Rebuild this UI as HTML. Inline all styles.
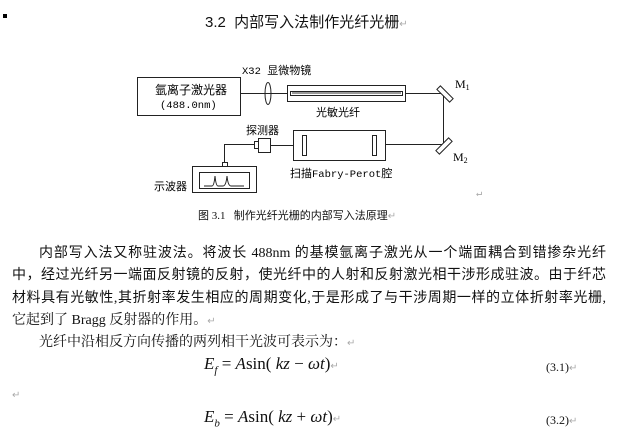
<!DOCTYPE html>
<html><head><meta charset="utf-8"><style>
body{margin:0;width:621px;height:436px;background:#fff;position:relative;overflow:hidden;font-family:"Liberation Serif","Noto Serif CJK SC","Noto Sans CJK SC",serif;color:#111}
.a{position:absolute;white-space:nowrap}
.t{position:absolute;font-size:14px;font-family:"Liberation Serif","Noto Sans CJK SC",sans-serif;text-align:justify;text-align-last:justify;white-space:nowrap}
.m{font-family:"Liberation Serif",serif;font-size:17px}
.r{color:#aaa;font-size:10px}
</style></head><body>
<div class="a" style="left:3px;top:14px;width:4px;height:4px;background:#000"></div>
<div class="a" style="left:205px;top:11px;font-size:15px;font-family:'Liberation Sans','Noto Sans CJK SC',sans-serif">3.2&nbsp; 内部写入法制作光纤光栅<span class="r">↵</span></div>
<svg class="a" style="left:0;top:0" width="621" height="210" font-family="Liberation Mono,'Noto Sans CJK SC',monospace" font-size="10.5">
<g fill="none" stroke="#222" stroke-width="1">
<rect x="137.5" y="77.5" width="103" height="38"/>
<line x1="240" y1="93.5" x2="287" y2="93.5"/>
<ellipse cx="268" cy="93.5" rx="3" ry="11"/>
<rect x="287.5" y="85.5" width="118" height="16"/>
<rect x="290.5" y="91.5" width="112" height="4"/>
<line x1="405" y1="93.5" x2="443" y2="93.5"/>
<line x1="443.5" y1="93" x2="443.5" y2="144"/>
<line x1="385" y1="144.5" x2="443" y2="144.5"/>
<rect x="293.5" y="130.5" width="92" height="30"/>
<rect x="302.5" y="135.5" width="4" height="20"/>
<rect x="372.5" y="135.5" width="4" height="20"/>
<line x1="271" y1="145.5" x2="293" y2="145.5"/>
<rect x="258.5" y="138.5" width="12" height="14"/>
<rect x="254.5" y="141.5" width="4" height="7"/>
<polyline points="254,144.5 224.5,144.5 224.5,162"/>
<rect x="222.5" y="162.5" width="5" height="4"/>
<rect x="192.5" y="166.5" width="64" height="26"/>
<rect x="199.5" y="172.5" width="50" height="16"/>
<path d="M204 186 L212 186 Q214 186 215 176 Q216 186 218 186 L223 186 Q226 186 227 176 Q228 186 231 186 L244 186"/>
</g>
<g stroke="#222" stroke-width="1" fill="#fff">
<rect x="-9" y="-2.5" width="18" height="5" transform="translate(445,94) rotate(45)"/>
<rect x="-9" y="-2.5" width="18" height="5" transform="translate(444,146) rotate(-45)"/>
</g>
<g fill="#333">
<rect x="292" y="92" width="109" height="2" opacity=".5"/>
</g>
<text x="155" y="94" font-size="12" font-family="Noto Sans CJK SC,sans-serif">氩离子激光器</text>
<text x="160" y="108">(488.0nm)</text>
<text x="242" y="74">X32 <tspan font-family="Noto Sans CJK SC,sans-serif" font-size="11">显微物镜</tspan></text>
<text x="316" y="116" font-family="Noto Sans CJK SC,sans-serif" font-size="11">光敏光纤</text>
<text x="246" y="134" font-family="Noto Sans CJK SC,sans-serif" font-size="11">探测器</text>
<text x="154" y="190" font-family="Noto Sans CJK SC,sans-serif" font-size="11">示波器</text>
<text x="290" y="177"><tspan font-family="Noto Sans CJK SC,sans-serif" font-size="11">扫描</tspan>Fabry-Perot<tspan font-family="Noto Sans CJK SC,sans-serif" font-size="11">腔</tspan></text>
<text x="455" y="88" font-family="Liberation Serif,serif" font-size="12">M<tspan font-size="8" dy="2">1</tspan></text>
<text x="453" y="161" font-family="Liberation Serif,serif" font-size="12">M<tspan font-size="8" dy="2">2</tspan></text>
<text x="476" y="196" fill="#aaa">↵</text>
</svg>
<div class="a" style="left:198px;top:207px;font-size:11px;font-family:'Liberation Serif','Noto Sans CJK SC',serif">图 3.1&nbsp;&nbsp; 制作光纤光栅的内部写入法原理<span class="r">↵</span></div>
<div class="t" style="left:39px;top:242px;width:567px">内部写入法又称驻波法。将波长 488nm 的基模氩离子激光从一个端面耦合到错掺杂光纤</div>
<div class="t" style="left:12px;top:264px;width:594px">中，经过光纤另一端面反射镜的反射，使光纤中的人射和反射激光相干涉形成驻波。由于纤芯</div>
<div class="t" style="left:12px;top:287px;width:594px">材料具有光敏性,其折射率发生相应的周期变化,于是形成了与干涉周期一样的立体折射率光栅,</div>
<div class="a" style="left:12px;top:309px;font-size:14px">它起到了 Bragg 反射器的作用。<span class="r">↵</span></div>
<div class="a" style="left:39px;top:331px;font-size:14px">光纤中沿相反方向传播的两列相干光波可表示为：<span class="r">↵</span></div>
<div class="a m" style="left:204px;top:354px"><i>E<sub style="font-size:11px">f</sub></i> = <i>A</i>sin( <i>kz</i> − <i>ωt</i>)<span class="r">↵</span></div>
<div class="a" style="left:546px;top:360px;font-size:12px">(3.1)<span class="r">↵</span></div>
<div class="a r" style="left:12px;top:390px">↵</div>
<div class="a m" style="left:204px;top:407px"><i>E<sub style="font-size:11px">b</sub></i> = <i>A</i>sin( <i>kz</i> + <i>ωt</i>)<span class="r">↵</span></div>
<div class="a" style="left:546px;top:413px;font-size:12px">(3.2)<span class="r">↵</span></div>
</body></html>
